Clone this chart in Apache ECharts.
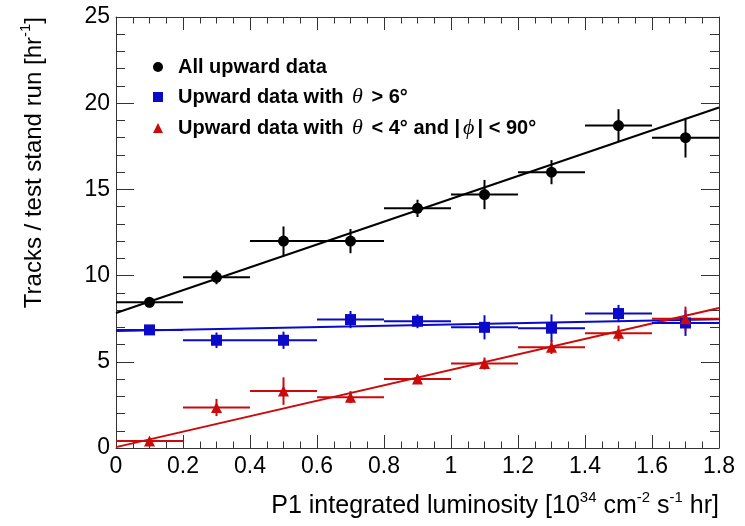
<!DOCTYPE html>
<html><head><meta charset="utf-8">
<script src="https://cdn.jsdelivr.net/npm/echarts@6/dist/echarts.min.js"></script>
<style>html,body{margin:0;padding:0;background:#fff}#c{width:745px;height:526px}</style>
</head><body><div id="c"></div>
<script>
// ---- data ----
const binCenters = [0.1, 0.3, 0.5, 0.7, 0.9, 1.1, 1.3, 1.5, 1.7];
const binHalfWidth = [0.1, 0.1, 0.1, 0.1, 0.1, 0.1, 0.1, 0.1, 0.1];

const allUpY   = [8.45, 9.9, 12.0, 12.0, 13.9, 14.7, 16.0, 18.7, 18.0];
const allUpErr = [0.3, 0.4, 0.85, 0.7, 0.5, 0.85, 0.7, 0.95, 1.15];

const thetaGt6Y   = [6.85, 6.25, 6.25, 7.45, 7.35, 7.0, 6.95, 7.8, 7.25];
const thetaGt6Err = [0.15, 0.45, 0.5, 0.5, 0.4, 0.7, 0.8, 0.5, 0.75];

const thetaLt4Y   = [0.4, 2.35, 3.3, 2.95, 4.0, 4.9, 5.85, 6.65, 7.5];
const thetaLt4Err = [0.15, 0.5, 0.8, 0.35, 0.25, 0.35, 0.4, 0.45, 0.7];

const fitX        = [0, 1.8];
const allUpFit    = [7.83, 19.75];
const thetaGt6Fit = [6.78, 7.47];
const thetaLt4Fit = [0.05, 8.12];

const xTicks = {min: 0, max: 1.8, interval: 0.2};
const yTicks = {min: 0, max: 25, interval: 5};

const seriesNames = ['All upward data', 'Upward data with θ > 6°', 'Upward data with θ < 4° and |ϕ| < 90°'];
const legendRich = [
  '{b|All upward data}',
  '{b|Upward data with }{g|θ}{b| > 6°}',
  '{b|Upward data with }{g|θ}{b| < 4° and |}{g|ϕ}{b|| < 90°}'
];

// ---- chart ----
const BLACK = '#000000', BLUE = '#0a0ac8', RED = '#cc0a0a';
const FONT = 'Liberation Sans, Arial, Helvetica, sans-serif';
const FRAME = '#333333';

function pts(ys) { return binCenters.map((x, i) => [x, ys[i]]); }
function errData(ys, errs) { return binCenters.map((x, i) => [x, ys[i], binHalfWidth[i], errs[i]]); }
function fitData(ys) { return fitX.map((x, i) => [x, ys[i]]); }

function errSeries(ys, errs, color) {
  return {
    type: 'custom', silent: true, z: 3,
    renderItem: function (params, api) {
      const x = api.value(0), y = api.value(1), xe = api.value(2), ye = api.value(3);
      const a = api.coord([x - xe, y]), b = api.coord([x + xe, y]);
      const c = api.coord([x, y - ye]), d = api.coord([x, y + ye]);
      const st = {stroke: color, lineWidth: 2};
      return {type: 'group', children: [
        {type: 'line', shape: {x1: a[0], y1: a[1], x2: b[0], y2: b[1]}, style: st},
        {type: 'line', shape: {x1: c[0], y1: c[1], x2: d[0], y2: d[1]}, style: st}
      ]};
    },
    encode: {x: 0, y: 1},
    data: errData(ys, errs)
  };
}
function fitSeries(ys, color) {
  return {type: 'line', data: fitData(ys), showSymbol: false, silent: true, z: 2,
    lineStyle: {color: color, width: 2}, itemStyle: {color: color}};
}
function ptSeries(name, ys, color, symbol, size) {
  return {type: 'scatter', name: name, data: pts(ys), symbol: symbol, symbolSize: size, z: 4,
    itemStyle: {color: color, opacity: 1}};
}

const xAxisBase = {
  type: 'value', min: xTicks.min, max: xTicks.max, interval: xTicks.interval,
  axisLine: {show: true, onZero: false, lineStyle: {color: FRAME, width: 1}},
  axisTick: {show: true, inside: true, length: 13, lineStyle: {color: FRAME, width: 1}},
  minorTick: {show: true, splitNumber: 4, length: 6.5, lineStyle: {color: FRAME, width: 1}},
  splitLine: {show: false}, minorSplitLine: {show: false}
};
const yAxisBase = {
  type: 'value', min: yTicks.min, max: yTicks.max, interval: yTicks.interval,
  axisLine: {show: true, onZero: false, lineStyle: {color: FRAME, width: 1}},
  axisTick: {show: true, inside: true, length: 18, lineStyle: {color: FRAME, width: 1}},
  minorTick: {show: true, splitNumber: 5, length: 9, lineStyle: {color: FRAME, width: 1}},
  splitLine: {show: false}, minorSplitLine: {show: false}
};

const chart = echarts.init(document.getElementById('c'), null, {renderer: 'canvas'});
chart.setOption({
  animation: false,
  backgroundColor: '#ffffff',
  grid: {left: 116, right: 26, top: 17, bottom: 78, containLabel: false, outerBoundsMode: 'none'},
  legend: {
    orient: 'vertical', left: 148, top: 52, itemGap: 9, itemWidth: 10, itemHeight: 10,
    selectedMode: false,
    data: [
      {name: seriesNames[0], icon: 'circle'},
      {name: seriesNames[1], icon: 'rect'},
      {name: seriesNames[2], icon: 'triangle'}
    ],
    formatter: function (name) { return legendRich[seriesNames.indexOf(name)]; },
    textStyle: {
      color: '#000', fontFamily: FONT, fontWeight: 'bold', fontSize: 20, padding: [0, 0, 0, 10],
      rich: {
        b: {fontFamily: FONT, fontWeight: 'bold', fontSize: 20, color: '#000'},
        g: {fontFamily: 'Liberation Serif, serif', fontStyle: 'italic', fontWeight: 'normal', fontSize: 22, color: '#000', padding: [0, 3, 0, 3]}
      }
    }
  },
  xAxis: [
    Object.assign({}, xAxisBase, {
      position: 'bottom',
      axisLabel: {show: true, margin: 7, fontFamily: FONT, fontSize: 23, color: '#000',
        showMinLabel: true, showMaxLabel: true,
        formatter: v => String(Number(v.toFixed(1)))},
      name: '{n|P1 integrated luminosity [10}{s|34}{n| cm}{s|-2}{n| s}{s|-1}{n| hr]}',
      nameLocation: 'end', nameGap: 0,
      nameTextStyle: {align: 'right', verticalAlign: 'top', padding: [42, 0, 0, 0],
        rich: {
          n: {fontFamily: FONT, fontSize: 25, color: '#000', lineHeight: 29, verticalAlign: 'bottom'},
          s: {fontFamily: FONT, fontSize: 15, color: '#000', verticalAlign: 'top', lineHeight: 15}
        }}
    }),
    Object.assign({}, xAxisBase, {position: 'top', axisLabel: {show: false}})
  ],
  yAxis: [
    Object.assign({}, yAxisBase, {
      position: 'left',
      axisLabel: {show: true, margin: 6, fontFamily: FONT, fontSize: 23, color: '#000',
        showMinLabel: true, showMaxLabel: true},
      name: '{n|Tracks / test stand run [hr}{s|-1}{n|]}',
      nameLocation: 'end', nameGap: 0, nameRotate: 90,
      nameTextStyle: {align: 'right', verticalAlign: 'bottom', padding: [0, 0, 70, 0],
        rich: {
          n: {fontFamily: FONT, fontSize: 24, color: '#000', lineHeight: 28, verticalAlign: 'bottom'},
          s: {fontFamily: FONT, fontSize: 15, color: '#000', verticalAlign: 'top', lineHeight: 15}
        }}
    }),
    Object.assign({}, yAxisBase, {position: 'right', axisLabel: {show: false}})
  ],
  series: [
    fitSeries(allUpFit, BLACK),
    fitSeries(thetaGt6Fit, BLUE),
    fitSeries(thetaLt4Fit, RED),
    errSeries(allUpY, allUpErr, BLACK),
    errSeries(thetaGt6Y, thetaGt6Err, BLUE),
    errSeries(thetaLt4Y, thetaLt4Err, RED),
    ptSeries(seriesNames[0], allUpY, BLACK, 'circle', 11),
    ptSeries(seriesNames[1], thetaGt6Y, BLUE, 'rect', 11),
    ptSeries(seriesNames[2], thetaLt4Y, RED, 'triangle', 11)
  ]
});
</script>
</body></html>
